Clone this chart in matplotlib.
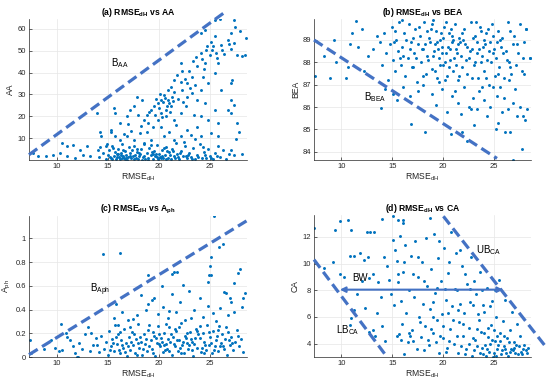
import numpy as np
import matplotlib
matplotlib.use("Agg")
import matplotlib.pyplot as plt

plt.rcParams['font.family'] = ['Liberation Sans', 'DejaVu Sans']
plt.rcParams['mathtext.fontset'] = 'custom'
plt.rcParams['mathtext.rm'] = 'Liberation Sans'
plt.rcParams['mathtext.it'] = 'Liberation Sans'
plt.rcParams['mathtext.bf'] = 'Liberation Sans:bold'

# (a) RMSE_dH vs AA
pts_aa = [
    (24.1, 58), (24.5, 59.5), (25.5, 64), (26, 64.5), (27.4, 64), (27.5, 61), (28, 58.8), (28.6, 56),
    (27.1, 58), (26.8, 55), (26.1, 52.7), (27.4, 53.5), (27.7, 48), (28.2, 47.4), (28.5, 48), (27.1, 51),
    (25.5, 56.5), (25.1, 54), (25.3, 52), (24.6, 50.4), (24.1, 49), (25, 48), (25.6, 49), (26.2, 50.4),
    (25.8, 44.3), (24.5, 44.3), (23.8, 42.8), (23.3, 38), (22.8, 35), (23.6, 34.4), (24.3, 38), (24.8, 35),
    (25.5, 39.7), (26.1, 32), (27.1, 35), (27.2, 36.7), (27.1, 27.5), (26.8, 23), (27.1, 21.4), (27.4, 25.2),
    (27.7, 16.9), (27.9, 13), (27.6, 9.5), (27.1, 4.8), (27.4, 2.5), (28.2, 2.8),
    (22.2, 44.3), (22.3, 40.5), (21.8, 39), (21.5, 36.7), (21.2, 33.6), (20.9, 32), (20.5, 29.8), (20.2, 27.5),
    (19.9, 26), (19.5, 24.5), (19.2, 23), (18.9, 20.7), (18.6, 18.4), (18.4, 27.5), (17.9, 29), (17.6, 24.5),
    (17.2, 23), (16.9, 20), (16.25, 17), (15.6, 23.7), (15.75, 21.4), (15.3, 13.8), (14.3, 13), (14.4, 10.8),
    (13.95, 21.4), (21.5, 31.3), (20.9, 27.5), (21.2, 24.5), (20.7, 23), (20.2, 21.4), (19.9, 18.4), (20.2, 15.3),
    (19.4, 15.3), (18.9, 13), (18.2, 12.2), (21, 13), (21.5, 18.4), (22.2, 21.4), (22.7, 24.5), (22.8, 29),
    (22.3, 32), (23.3, 30.6), (23.8, 27.5), (24.1, 32), (24.5, 26), (24.1, 20), (24.8, 18.4), (23.8, 15.3),
    (23.2, 11.5), (24.1, 10.8), (25.1, 12.3), (25.8, 10.8), (25.8, 16.9), (25.5, 23), (22.8, 13.8), (22.2, 10.8),
    (21.5, 9.2), (20.5, 10.8), (19.2, 9.2), (18.6, 7.7), (17.6, 9.2), (16.9, 10.8), (16.25, 9.2), (15.75, 10.8),
    (15.3, 13), (14.8, 6.2), (14.1, 4.7), (12.96, 6.2), (12.3, 4.7), (11.6, 7), (11, 6.2), (10.5, 7.7),
    (10.3, 3.1), (9.7, 2.4), (9, 1.9), (8.2, 1.6), (7.7, 3.1), (11, 1.6), (11.8, 0.8), (12.6, 2.4), (13.3, 1.6),
    (20.4, 26.5), (20.6, 28.4), (21.0, 26.0), (20.1, 30.0), (19.7, 28.0), (21.3, 29.0), (20.8, 24.8),
    (14.2, 1.5), (14.5, 3.2), (14.8, 0.5), (15.0, 2.1), (15.1, 4.8), (15.3, 0.9), (15.4, 6.5), (15.6, 1.8),
    (15.7, 3.5), (15.8, 0.3), (15.9, 2.6), (16.0, 5.2), (16.1, 1.2), (16.2, 0.4), (16.3, 3.0), (16.4, 7.1),
    (16.5, 1.9), (16.6, 0.7), (16.7, 4.1), (16.8, 2.3), (16.9, 0.2), (17.0, 1.5), (17.1, 5.8), (17.2, 3.3),
    (17.3, 0.8), (17.5, 2.0), (17.6, 6.3), (17.8, 1.1), (17.9, 3.8), (18.0, 0.5), (18.2, 2.7), (18.3, 5.0),
    (18.5, 1.4), (18.6, 7.4), (18.7, 0.3), (18.9, 3.1), (19.0, 1.0), (19.1, 5.5), (19.2, 2.2), (19.4, 0.6),
    (19.5, 4.2), (19.6, 1.7), (19.8, 6.8), (19.9, 0.4), (20.0, 2.9), (20.1, 1.3), (20.3, 4.6), (20.4, 0.8),
    (20.6, 2.4), (20.7, 6.0), (20.9, 1.0), (21.0, 3.5), (21.2, 0.3), (21.3, 5.1), (21.5, 1.6), (21.7, 7.9),
    (21.8, 2.8), (22.0, 0.6), (22.2, 4.3), (22.4, 1.9), (22.6, 6.5), (22.8, 0.9), (23.0, 3.0), (23.2, 1.4),
    (23.4, 5.6), (23.6, 0.5), (23.8, 2.5), (24.0, 7.2), (24.2, 1.1), (24.4, 3.7), (24.6, 0.7), (24.8, 5.0),
    (25.0, 2.0), (25.3, 0.4), (25.5, 3.4), (25.8, 6.2), (26.0, 1.3), (26.3, 4.5), (26.6, 0.6), (26.9, 2.6),
    (15.2, 1.4), (16.0, 2.9), (16.8, 1.0), (17.4, 4.6), (18.1, 2.0), (19.3, 3.6), (20.2, 0.9), (20.8, 3.9),
    (21.9, 1.2), (22.9, 2.1), (16.4, 0.9), (17.7, 2.4), (19.7, 2.6), (18.4, 0.2), (15.5, 5.5), (14.9, 7.5),
    (14.3, 5.8),
    (15.4, 0.6), (15.9, 1.4), (16.3, 2.2), (16.7, 0.4), (17.2, 1.8), (17.6, 0.5), (18.1, 3.4), (18.6, 1.6),
    (19.0, 0.2), (19.4, 2.8), (19.8, 1.2), (20.3, 2.0), (20.7, 0.3), (21.1, 2.3), (21.6, 0.7), (22.1, 3.1),
    (22.7, 1.6), (23.3, 0.3), (23.9, 1.2), (24.5, 2.2), (25.1, 0.8), (25.7, 1.8), (16.5, 4.8), (17.9, 5.2),
    (19.2, 6.9), (20.5, 5.5), (21.4, 4.2), (22.5, 8.4), (23.6, 9.5), (24.3, 6.0),
    (19.1, 21.8), (19.6, 20.5), (20.0, 23.6), (20.3, 19.8), (20.7, 20.2), (21.1, 22.0), (21.4, 26.8), (21.9, 28.0),
    (22.2, 35.5), (22.6, 37.2), (23.0, 40.5), (23.4, 45.3), (23.7, 47.0), (24.2, 46.0), (24.7, 52.0), (25.2, 50.5),
    (25.7, 46.8), (26.4, 48.5), (26.9, 53.0), (24.4, 41.5), (23.1, 33.0), (22.4, 26.5), (18.3, 15.5), (17.3, 13.2),
    (16.6, 12.0), (17.0, 16.4), (18.0, 20.5), (19.0, 17.0), (21.7, 16.0), (23.5, 20.5),
]

# (b) RMSE_dH vs BEA
pts_bea = [
    (13.1, 88.6), (13.5, 89.2), (13.8, 88.9), (14.0, 87.9), (14.2, 89.3), (14.4, 88.4), (14.6, 87.2), (14.8, 88.8),
    (15.0, 89.6), (15.1, 88.1), (15.3, 87.6), (15.4, 89.0), (15.6, 88.5), (15.7, 89.8), (15.9, 87.9), (16.0, 88.7),
    (16.2, 89.3), (16.3, 87.4), (16.5, 88.2), (16.6, 89.7), (16.8, 88.9), (16.9, 87.8), (17.1, 88.4), (17.2, 89.5),
    (17.4, 87.1), (17.5, 88.8), (17.7, 89.2), (17.8, 88.0), (18.0, 88.6), (18.1, 89.8), (18.3, 87.5), (18.4, 88.3),
    (18.6, 89.1), (18.7, 88.9), (18.9, 87.7), (19.0, 89.9), (19.1, 88.5), (19.3, 89.4), (19.4, 87.3), (19.6, 88.2),
    (19.7, 89.0), (19.9, 88.7), (20.0, 87.9), (20.1, 89.6), (20.3, 88.4), (20.4, 87.4), (20.6, 89.3), (20.7, 88.1),
    (20.9, 88.9), (21.0, 87.6), (21.2, 89.7), (21.3, 88.6), (21.5, 87.2), (21.6, 89.1), (21.8, 88.3), (21.9, 87.8),
    (22.1, 89.5), (22.2, 88.8), (22.4, 87.5), (22.5, 88.2), (22.7, 89.8), (22.8, 88.6), (23.0, 87.9), (23.1, 89.2),
    (23.3, 88.4), (23.4, 87.3), (23.6, 89.6), (23.7, 88.0), (23.9, 88.7), (24.0, 87.6), (24.2, 89.3), (24.3, 88.1),
    (24.5, 87.0), (24.6, 88.9), (24.8, 89.7), (24.9, 88.4), (25.1, 87.4), (25.2, 88.2), (25.4, 89.4), (25.5, 87.8),
    (25.7, 88.7), (25.8, 89.1), (26.0, 87.3), (26.2, 88.5), (26.4, 89.8), (26.5, 88.0), (26.7, 87.5), (26.9, 88.8),
    (27.0, 89.2), (27.2, 87.9), (27.4, 88.4), (27.6, 89.7), (27.8, 87.6), (28.0, 88.9), (28.2, 89.5), (28.5, 88.2),
    (15.2, 88.9), (16.1, 88.3), (17.0, 89.1), (17.9, 88.6), (18.5, 88.1), (19.2, 88.8), (19.8, 89.3), (20.2, 88.0),
    (20.8, 89.5), (21.4, 88.4), (22.0, 89.0), (22.6, 88.5), (23.2, 89.8), (23.8, 88.3), (24.4, 89.5), (25.0, 88.6),
    (25.6, 89.0), (26.3, 88.1), (18.8, 89.5), (19.5, 88.6), (20.5, 88.7), (21.1, 88.2), (21.7, 88.9), (22.3, 88.1),
    (19.0, 88.3), (17.3, 88.2), (16.4, 89.0), (20.0, 89.1), (24.7, 88.0), (23.5, 88.6),
    (15.3, 89.4), (16.0, 89.9), (16.7, 88.6), (17.6, 89.6), (18.2, 88.8), (18.9, 89.7), (19.4, 88.9), (19.9, 88.4),
    (20.3, 89.8), (20.7, 88.6), (21.0, 89.0), (21.5, 88.8), (21.9, 89.3), (22.4, 88.7), (22.9, 89.1), (23.3, 88.9),
    (23.7, 89.4), (24.1, 88.8), (24.5, 88.5), (24.9, 89.2), (25.3, 88.9), (25.9, 88.4), (26.6, 89.4), (27.3, 88.8),
    (27.9, 88.2), (18.0, 87.4), (19.2, 87.6), (20.6, 87.8), (21.6, 87.4), (22.8, 87.3), (24.2, 87.3), (25.4, 87.5),
    (26.6, 87.8), (17.0, 87.8), (15.8, 88.2), (23.1, 88.0), (21.3, 87.9), (19.7, 87.9), (24.0, 89.0), (18.4, 89.4),
    (20.9, 89.2),
    (14.3, 86.8), (15.1, 86.6), (15.5, 86.3), (16.1, 86.9), (16.7, 86.5), (17.5, 86.7), (18.0, 87.0), (18.9, 86.6),
    (19.3, 86.1), (19.9, 86.8), (20.4, 85.8), (20.9, 86.5), (21.5, 86.2), (21.8, 85.7), (22.1, 86.9), (22.5, 86.0),
    (22.9, 86.4), (23.3, 85.9), (23.5, 86.7), (24.0, 86.3), (24.3, 85.6), (24.6, 86.0), (24.9, 86.9), (25.3, 86.5),
    (25.8, 85.8), (26.0, 86.4), (26.4, 85.9), (26.9, 86.2), (27.3, 85.6), (27.6, 86.0), (27.9, 85.6), (28.1, 85.4),
    (22.7, 85.9), (23.8, 86.9), (21.2, 86.7), (20.2, 87.2), (19.6, 87.1), (25.6, 86.9), (26.5, 87.2), (27.1, 86.8),
    (7.4, 87.4), (8.3, 88.3), (8.9, 87.3), (9.5, 88.0), (9.3, 89.0), (10.4, 87.3), (10.6, 87.8), (10.8, 88.8),
    (11.4, 89.85), (11.0, 89.3), (12.0, 89.5), (12.2, 87.6), (13.9, 85.97), (16.8, 85.25), (18.2, 84.9),
    (20.8, 84.8), (21.9, 84.9), (23.0, 85.2), (22.4, 84.5), (25.4, 85.3), (26.1, 84.9), (26.6, 84.9), (26.9, 83.65),
    (27.8, 84.1), (28.3, 85.9), (28.5, 88.2), (28.2, 89.5), (28.0, 87.5), (25.2, 85.0), (12.6, 88.3), (11.6, 88.7),
]

# (c) RMSE_dH vs A_ph
pts_aph = [
    (14.0, 0.10), (14.2, 0.04), (14.4, 0.18), (14.6, 0.07), (14.8, 0.13), (15.0, 0.02), (15.1, 0.22), (15.3, 0.09),
    (15.4, 0.15), (15.6, 0.05), (15.7, 0.27), (15.9, 0.11), (16.0, 0.19), (16.2, 0.03), (16.3, 0.14), (16.5, 0.08),
    (16.6, 0.24), (16.8, 0.12), (16.9, 0.01), (17.1, 0.17), (17.2, 0.06), (17.4, 0.21), (17.5, 0.10), (17.7, 0.03),
    (17.8, 0.15), (18.0, 0.28), (18.1, 0.08), (18.3, 0.13), (18.4, 0.02), (18.6, 0.19), (18.7, 0.11), (18.9, 0.05),
    (19.0, 0.23), (19.2, 0.14), (19.3, 0.07), (19.5, 0.18), (19.6, 0.01), (19.8, 0.12), (19.9, 0.26), (20.1, 0.09),
    (20.2, 0.16), (20.4, 0.04), (20.5, 0.20), (20.7, 0.11), (20.8, 0.07), (21.0, 0.25), (21.1, 0.13), (21.3, 0.02),
    (21.4, 0.17), (21.6, 0.09), (21.7, 0.22), (21.9, 0.05), (22.0, 0.14), (22.2, 0.29), (22.3, 0.10), (22.5, 0.03),
    (22.6, 0.18), (22.8, 0.12), (22.9, 0.07), (23.1, 0.21), (23.2, 0.15), (23.4, 0.01), (23.5, 0.11), (23.7, 0.24),
    (23.8, 0.08), (24.0, 0.16), (24.1, 0.04), (24.3, 0.20), (24.4, 0.13), (24.6, 0.06), (24.7, 0.27), (24.9, 0.10),
    (25.0, 0.17), (25.2, 0.03), (25.3, 0.22), (25.5, 0.09), (25.6, 0.14), (25.8, 0.05), (25.9, 0.26), (26.1, 0.12),
    (26.2, 0.19), (26.4, 0.07), (26.5, 0.15), (26.7, 0.02), (26.8, 0.21), (27.0, 0.10), (27.1, 0.17), (27.3, 0.06),
    (27.5, 0.13), (27.7, 0.23), (27.9, 0.09), (28.1, 0.15), (28.3, 0.04),
    (15.5, 0.12), (16.4, 0.10), (17.3, 0.13), (18.2, 0.17), (19.1, 0.09), (19.7, 0.16), (20.3, 0.13), (20.9, 0.15),
    (21.5, 0.11), (22.1, 0.08), (22.7, 0.16), (23.3, 0.06), (23.9, 0.19), (24.5, 0.10), (25.1, 0.12), (25.7, 0.18),
    (26.3, 0.09), (26.9, 0.14), (18.5, 0.07), (19.4, 0.21), (20.6, 0.06), (21.2, 0.19), (22.4, 0.13), (23.6, 0.16),
    (24.2, 0.08), (17.6, 0.19), (16.1, 0.06), (20.0, 0.11), (21.8, 0.14), (23.0, 0.10),
    (15.2, 0.06), (15.8, 0.17), (16.2, 0.21), (16.7, 0.04), (17.0, 0.09), (17.9, 0.02), (18.8, 0.15), (19.4, 0.03),
    (20.0, 0.19), (20.5, 0.10), (21.0, 0.05), (21.6, 0.24), (22.2, 0.03), (22.8, 0.20), (23.3, 0.13), (23.8, 0.22),
    (24.4, 0.03), (24.9, 0.21), (25.4, 0.06), (26.0, 0.09), (26.6, 0.25), (27.2, 0.12), (27.8, 0.18), (19.1, 0.27),
    (20.7, 0.28), (22.0, 0.25), (17.2, 0.25), (24.0, 0.26), (25.8, 0.23), (18.0, 0.12),
    (15.6, 0.33), (15.8, 0.45), (16.4, 0.38), (17.0, 0.31), (17.9, 0.35), (18.3, 0.52), (18.8, 0.40), (19.3, 0.48),
    (19.5, 0.50), (19.9, 0.36), (20.4, 0.42), (20.9, 0.33), (21.3, 0.53), (21.7, 0.38), (22.1, 0.46), (22.6, 0.31),
    (23.0, 0.56), (23.5, 0.40), (24.0, 0.50), (24.3, 0.34), (24.8, 0.43), (25.3, 0.37), (25.6, 0.30), (26.0, 0.41),
    (26.8, 0.35), (27.4, 0.38), (28.2, 0.42), (23.2, 0.33), (19.0, 0.45), (21.0, 0.39), (17.5, 0.32), (16.0, 0.27),
    (7.4, 0.14), (7.5, 0.03), (8.8, 0.07), (9.5, 0.14), (9.8, 0.08), (10.2, 0.05), (10.4, 0.28), (10.9, 0.20),
    (11.0, 0.17), (11.3, 0.14), (11.6, 0.09), (11.8, 0.03), (12.0, 0.0), (12.2, 0.12), (12.5, 0.07), (12.8, 0.19),
    (13.1, 0.25), (13.4, 0.20), (13.6, 0.10), (13.9, 0.16), (12.1, 0.0), (13.3, 0.05), (10.5, 0.06),
    (14.5, 0.87), (16.2, 0.88), (25.4, 1.19), (26.3, 0.95), (25.9, 0.93), (25.1, 0.84), (25.0, 0.77), (25.1, 0.69),
    (24.9, 0.69), (24.8, 0.63), (21.5, 0.72), (21.3, 0.70), (21.8, 0.72), (19.0, 0.69), (20.3, 0.60), (22.4, 0.61),
    (27.4, 0.62), (27.8, 0.71), (28.0, 0.74), (26.4, 0.55), (26.6, 0.54), (28.5, 0.54), (28.3, 0.50), (27.0, 0.50),
    (27.1, 0.46),
]

# (d) RMSE_dH vs CA
pts_ca = [
    (7.27, 12.7), (9.4, 12.55), (9.9, 13.2), (10.6, 13.25), (10.9, 12.5), (12.5, 12.4), (12.8, 12.35), (13.2, 12.4),
    (14.0, 13.35), (15.1, 13.6), (15.6, 13.3), (16.1, 13.3), (16.1, 13.05), (18.7, 13.4),
    (8.3, 9.7), (9.2, 10.1), (9.9, 9.2), (10.3, 9.0), (10.8, 10.6), (11.2, 10.6), (11.8, 10.8), (12.2, 10.3),
    (12.6, 10.5), (13.1, 9.2), (12.0, 8.7), (11.5, 7.7), (12.7, 8.9), (13.5, 6.3), (12.3, 6.7), (11.2, 6.5),
    (10.9, 5.9), (13.3, 4.6), (12.7, 4.9), (13.1, 5.0), (10.8, 5.4), (13.9, 7.5), (13.6, 8.6), (14.0, 5.3),
    (14.3, 4.2),
    (14.2, 10.5), (14.5, 9.8), (14.7, 8.8), (14.9, 7.7), (15.1, 11.8), (15.2, 6.9), (15.3, 11.0), (15.5, 10.2),
    (15.6, 8.6), (15.7, 4.7), (15.8, 12.1), (15.9, 7.2), (16.0, 5.5), (16.1, 9.4), (16.3, 11.4), (16.4, 6.3),
    (16.5, 4.1), (16.6, 8.0), (16.8, 10.6), (16.9, 5.0), (17.1, 7.5), (17.2, 11.7), (17.4, 3.6), (17.5, 9.0),
    (17.6, 6.0), (17.8, 4.5), (17.9, 10.1), (18.0, 7.0), (18.2, 5.3), (18.3, 11.9), (18.4, 8.3), (18.6, 3.9),
    (18.7, 6.6), (18.8, 9.6), (19.0, 4.8), (19.1, 12.2), (19.2, 7.8), (19.4, 5.8), (19.5, 10.4), (19.6, 3.3),
    (19.8, 8.7), (19.9, 6.2), (20.0, 4.4), (20.1, 11.2), (20.3, 7.3), (20.4, 3.7), (20.5, 9.3), (20.7, 5.1),
    (20.8, 12.4), (20.9, 6.8), (21.1, 4.0), (21.2, 8.1), (21.3, 10.8), (21.5, 3.3), (21.6, 5.6), (21.7, 7.0),
    (21.9, 9.8), (22.0, 4.6), (22.1, 6.3), (22.3, 3.6), (22.4, 8.5), (22.5, 5.2), (22.7, 10.5), (22.8, 3.1),
    (22.9, 6.9), (23.1, 4.3), (23.2, 7.7), (23.3, 3.8), (23.5, 5.8), (23.6, 9.4), (23.7, 4.9), (23.9, 3.2),
    (24.0, 6.4), (24.1, 3.9), (24.3, 8.2), (24.4, 4.5), (24.5, 3.4), (24.7, 5.4), (24.8, 7.2), (24.9, 3.0),
    (25.1, 4.2), (25.2, 6.0), (25.3, 3.6), (25.5, 8.8), (25.6, 4.8), (25.7, 3.2), (25.9, 5.7), (26.0, 3.8),
    (26.1, 7.3), (26.3, 4.4), (26.4, 3.1), (26.6, 5.0), (26.7, 3.6), (26.8, 6.4), (27.0, 4.1), (27.1, 3.3),
    (27.3, 5.5), (27.5, 3.8), (27.6, 4.6), (27.8, 3.2), (28.0, 3.9), (28.2, 3.5), (28.4, 3.7),
    (23.0, 3.5), (23.8, 3.7), (24.2, 3.1), (24.6, 4.0), (25.0, 3.3), (25.4, 3.9), (25.8, 3.5), (26.2, 3.3),
    (26.5, 4.1), (26.9, 3.5), (27.2, 3.9), (27.7, 3.4), (24.0, 4.8), (25.0, 5.0), (26.0, 4.6), (22.5, 4.0),
    (21.8, 3.8), (20.6, 4.2), (19.3, 4.1), (18.1, 3.5), (17.0, 4.2), (16.2, 3.2), (22.0, 5.5), (23.4, 6.2),
    (24.6, 6.8), (21.0, 5.8), (20.0, 5.3), (19.0, 6.0), (18.5, 4.3),
    (20.2, 8.1), (21.4, 8.0), (22.6, 8.1), (23.8, 8.0), (19.4, 8.2), (25.1, 8.0),
    (22.2, 3.2), (22.9, 4.4), (23.6, 3.3), (24.3, 3.6), (24.8, 4.3), (25.2, 3.1), (25.6, 4.2), (26.1, 3.6),
    (26.6, 3.4), (27.0, 3.7), (27.4, 3.2), (27.9, 3.6), (28.3, 3.3), (25.3, 4.6), (24.4, 5.2), (23.3, 5.1),
    (21.4, 4.6), (20.3, 3.4), (19.7, 4.6), (18.8, 5.1), (17.7, 5.6), (16.7, 4.6), (15.9, 4.3), (15.5, 4.6),
    (16.6, 4.8), (21.5, 6.5), (22.6, 7.1), (23.9, 6.9), (20.5, 6.3), (19.0, 7.1), (18.1, 8.7), (20.6, 10.1),
    (21.7, 11.0), (19.6, 11.7), (17.5, 10.5), (22.2, 9.2), (23.0, 8.7), (17.0, 9.2), (16.2, 10.1), (15.6, 9.2),
]

# boundary lines (x0, y0, x1, y1) and labels
line_aa = [7.3, 2.4, 26.45, 67.5]
line_bea = [7.3, 89.0, 25.3, 83.7]
line_aph = [7.3, 0.02, 28.6, 1.146]
line_lb = [7.3, 10.3, 14.44, 3.05]
line_ub = [20.03, 13.55, 30.07, 3.8]
bw_arrow = [9.84, 25.9, 8.05]

blue = '#0072BD'
lblue = '#4472C4'
grey = '#262626'

fig = plt.figure(figsize=(5.5, 3.86), dpi=100)
boxes = [
    [0.0527, 0.5855, 0.3964, 0.3653],
    [0.5709, 0.5855, 0.3946, 0.3653],
    [0.0527, 0.0751, 0.3964, 0.3661],
    [0.5709, 0.0751, 0.3946, 0.3687],
]
axs = [fig.add_axes(b) for b in boxes]


def style(ax, title, ylabel, ylim, yticks, yticklabels=None):
    ax.set_xlim(7.3, 28.65)
    ax.set_ylim(*ylim)
    ax.set_xticks([10, 15, 20, 25])
    ax.set_yticks(yticks)
    if yticklabels is not None:
        ax.set_yticklabels(yticklabels)
    ax.grid(True, color='#e6e6e6', lw=0.5)
    ax.set_axisbelow(True)
    for s in ['top', 'right']:
        ax.spines[s].set_visible(False)
    for s in ['left', 'bottom']:
        ax.spines[s].set_color(grey)
        ax.spines[s].set_linewidth(0.5)
    ax.tick_params(labelsize=5.5, colors=grey, length=2, width=0.5, direction='in', pad=2)
    ax.set_title(title, fontsize=6.2, fontweight='bold', color='black', pad=3)
    ax.set_xlabel(r'RMSE$_{\mathrm{dH}}$', fontsize=6.2, color=grey, labelpad=1)
    ax.set_ylabel(ylabel, fontsize=6.2, color=grey, labelpad=2)


def dashed(ax, ln):
    ax.plot([ln[0], ln[2]], [ln[1], ln[3]], color=lblue, lw=2.3, dashes=(3.2, 1.6),
            clip_on=False, zorder=3)


data = [pts_aa, pts_bea, pts_aph, pts_ca]
for ax, pts in zip(axs, data):
    p = np.array(pts)
    ax.scatter(p[:, 0], p[:, 1], s=4.5, color=blue, linewidths=0, zorder=2)

style(axs[0], r'(a) RMSE$_{\mathbf{dH}}$ vs AA', 'AA', (0, 64.5), [10, 20, 30, 40, 50, 60])
style(axs[1], r'(b) RMSE$_{\mathbf{dH}}$ vs BEA', 'BEA', (83.63, 89.94), [84, 85, 86, 87, 88, 89])
style(axs[2], r'(c) RMSE$_{\mathbf{dH}}$ vs A$_{\mathbf{ph}}$', r'A$_{\mathrm{ph}}$', (0, 1.19),
      [0, 0.2, 0.4, 0.6, 0.8, 1], ['0', '0.2', '0.4', '0.6', '0.8', '1'])
style(axs[3], r'(d) RMSE$_{\mathbf{dH}}$ vs CA', 'CA', (3.0, 13.67), [4, 6, 8, 10, 12])

dashed(axs[0], line_aa)
dashed(axs[1], line_bea)
dashed(axs[2], line_aph)
dashed(axs[3], line_lb)
dashed(axs[3], line_ub)

axs[0].text(15.3, 44.3, r'B$_{\mathrm{AA}}$', fontsize=7, va='center')
axs[1].text(12.2, 86.46, r'B$_{\mathrm{BEA}}$', fontsize=7, va='center')
axs[2].text(13.3, 0.57, r'B$_{\mathrm{Aph}}$', fontsize=7, va='center')
axs[3].text(11.05, 8.9, 'BW', fontsize=7, va='center')
axs[3].text(9.44, 5.05, r'LB$_{\mathrm{CA}}$', fontsize=7, va='center')
axs[3].text(23.2, 11.05, r'UB$_{\mathrm{CA}}$', fontsize=7, va='center')

axs[3].annotate('', xy=(bw_arrow[0], bw_arrow[2]), xytext=(bw_arrow[1], bw_arrow[2]),
                arrowprops=dict(arrowstyle='<|-|>', color=lblue, lw=1.5, mutation_scale=8,
                                shrinkA=0, shrinkB=0), zorder=4)

fig.savefig('out.png', dpi=100)
